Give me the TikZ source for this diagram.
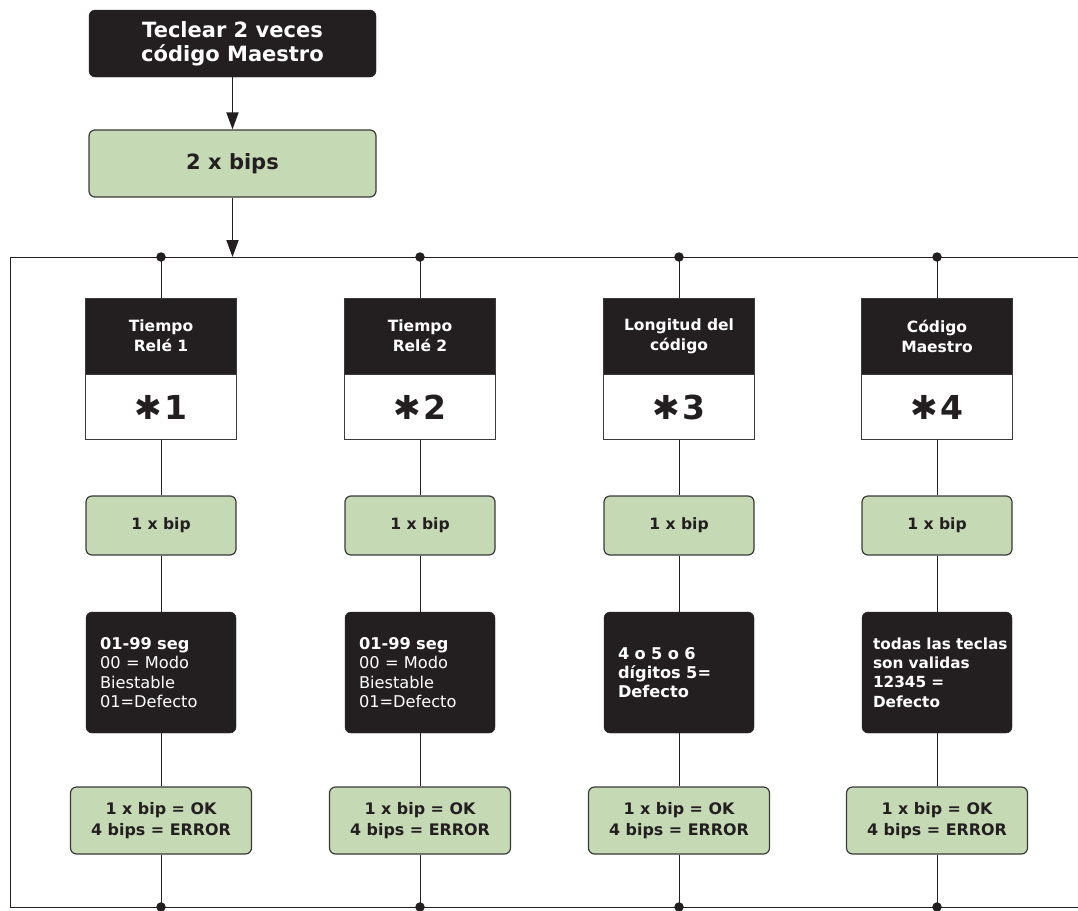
\documentclass[tikz,border=0pt]{standalone}
\usepackage{fontspec}
\setmainfont{DejaVu Sans}
\newfontfamily\symf{DejaVu Sans}
\usetikzlibrary{arrows.meta}
\definecolor{dk}{HTML}{231F20}
\definecolor{gr}{HTML}{C6D9B5}
\definecolor{ln}{HTML}{3A3A3A}
\newcommand{\hst}[1]{{\symf\char"2731}\hspace{2pt}#1}
\begin{document}
\begin{tikzpicture}[x=1pt,y=-1pt,
 blk/.style={fill=dk, draw=dk, rounded corners=6pt, text=white, font=\bfseries\fontsize{21}{24}\selectfont, align=center, minimum width=287pt, minimum height=67pt, inner sep=0pt},
 grn/.style={fill=gr, draw=ln, line width=1.2pt, rounded corners=6pt, text=dk, align=center, inner sep=0pt},
 head/.style={fill=dk, draw=ln, line width=0.9pt, text=white, font=\bfseries\fontsize{15.5}{20}\selectfont, align=center, minimum width=151pt, minimum height=76pt, inner sep=0pt},
 star/.style={fill=white, draw=ln, line width=0.9pt, text=dk, font=\bfseries\fontsize{33}{33}\selectfont, minimum width=151pt, minimum height=65pt, inner sep=0pt},
 desc/.style={fill=dk, draw=dk, rounded corners=6pt, text=white, font=\fontsize{16.2}{19.3}\selectfont, align=left, text width=122pt, minimum width=150pt, minimum height=121pt, inner xsep=14pt, inner ysep=0pt},
 bipb/.style={grn, font=\bfseries\fontsize{15.6}{19}\selectfont, minimum width=150pt, minimum height=59pt},
 resb/.style={grn, font=\bfseries\fontsize{15.9}{20.5}\selectfont, minimum width=181pt, minimum height=67pt},
 wire/.style={draw=dk, line width=0.9pt},
 dot/.style={circle, fill=dk, inner sep=0pt, minimum size=9.5pt},
 arr/.style={draw=dk, line width=1.8pt, -{Triangle[length=17pt,width=12pt]}}]
\useasboundingbox (0,0) rectangle (1078,910);

% top
\node[blk] (top) at (232.5,43.5) {Teclear 2 veces\\código Maestro};
\node[grn, font=\bfseries\fontsize{21}{24}\selectfont, minimum width=287pt, minimum height=67pt] (two) at (232.5,163.5) {2 x bips};
\coordinate (bus) at (232.5,257);
\draw[arr] (top) -- (two);
\draw[arr] (two) -- (bus);

% frame
\coordinate (TL) at (10,257);
\coordinate (TR) at (1078,257);
\coordinate (BL) at (10,907);
\coordinate (BR) at (1078,907);
\draw[wire] (TR) -- (TL) -- (BL) -- (BR);

% columns
\foreach \i/\x in {1/161,2/420,3/679,4/937}{
  \coordinate (t\i) at (\x,257);
  \coordinate (b\i) at (\x,907);
  \node[dot] at (t\i) {};
  \node[dot] at (b\i) {};
}

\node[head] (h1) at (161,336) {Tiempo\\Relé 1};
\node[head] (h2) at (420,336) {Tiempo\\Relé 2};
\node[head] (h3) at (679,336) {Longitud del\\código};
\node[head] (h4) at (937,336) {Código\\Maestro};

\node[star] (s1) at (161,407) {\hst{1}};
\node[star] (s2) at (420,407) {\hst{2}};
\node[star] (s3) at (679,407) {\hst{3}};
\node[star] (s4) at (937,407) {\hst{4}};

\foreach \i/\x in {1/161,2/420,3/679,4/937}{
  \node[bipb] (p\i) at (\x,525.5) {1 x bip};
  \node[resb] (r\i) at (\x,820.5) {1 x bip = OK\\4 bips = ERROR};
}

\node[desc] (d1) at (161,672.5) {\textbf{01-99 seg}\\00 = Modo\\Biestable\\01=Defecto};
\node[desc] (d2) at (420,672.5) {\textbf{01-99 seg}\\00 = Modo\\Biestable\\01=Defecto};
\node[desc, font=\bfseries\fontsize{16.2}{19.3}\selectfont] (d3) at (679,672.5) {4 o 5 o 6\\dígitos 5=\\Defecto};
\node[desc, font=\bfseries\fontsize{15.3}{19.3}\selectfont, text width=128pt, inner xsep=11pt] (d4) at (937,672.5) {todas~las~teclas\\son validas\\12345 =\\Defecto};

\foreach \i in {1,2,3,4}{
  \draw[wire] (t\i) -- (h\i.north);
  \draw[wire] (s\i.south) -- (p\i.north);
  \draw[wire] (p\i.south) -- (d\i.north);
  \draw[wire] (d\i.south) -- (r\i.north);
  \draw[wire] (r\i.south) -- (b\i);
}
\end{tikzpicture}
\end{document}
